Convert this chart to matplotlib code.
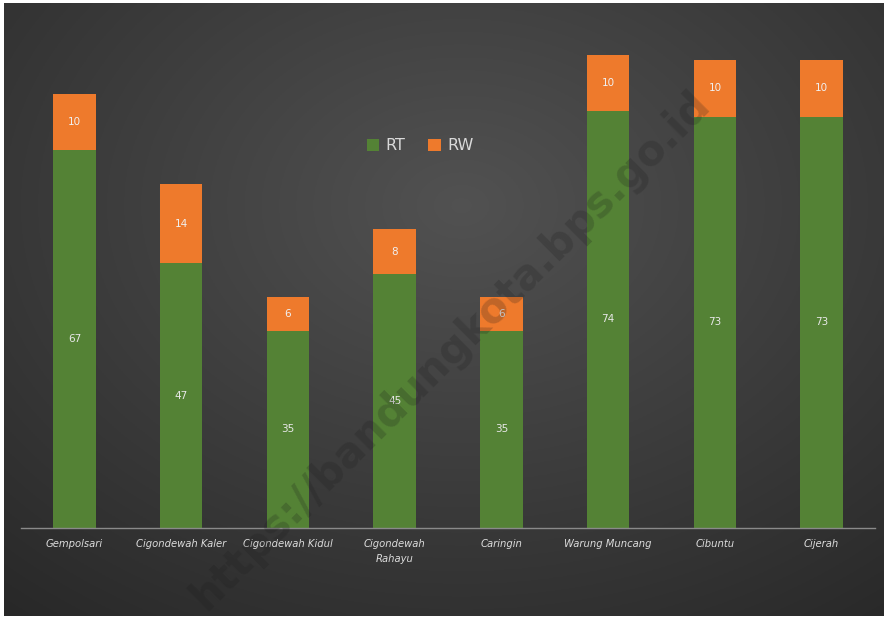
import numpy as np
import matplotlib
matplotlib.use('Agg')  # No DISPLAY
import matplotlib.pyplot as plt
from matplotlib import font_manager

kelurahan = ["Gempolsari", "Cigondewah Kaler", "Cigondewah Kidul",
             "Cigondewah\nRahayu", "Caringin", "Warung Muncang",
             "Cibuntu", "Cijerah"]
rt = [67, 47, 35, 45, 35, 74, 73, 73]
rw = [10, 14, 6, 8, 6, 10, 10, 10]

W, H = 888, 619
fig = plt.figure(figsize=(W / 100, H / 100), dpi=100)
fig.patch.set_facecolor('white')

# dark radial background panel
bg = fig.add_axes([4 / W, 3 / H, 880 / W, 613 / H])
yy, xx = np.mgrid[0:1:300j, 0:1:430j]
r = np.sqrt(((xx - 0.52) / 0.75) ** 2 + ((yy - 0.33) / 0.8) ** 2)
shade = np.clip(0.32 - 0.15 * r, 0.15, 0.32)
bg.imshow(np.dstack([shade, shade, shade]), aspect='auto',
          extent=[0, 1, 1, 0])
bg.set_axis_off()

ax = fig.add_axes([21 / W, (H - 528) / H, 854 / W, 496 / H])
ax.set_facecolor('none')
x = np.arange(len(kelurahan))
green = '#548235'
orange = '#ee7a2c'
ax.bar(x, rt, 0.40, color=green, label='RT')
ax.bar(x, rw, 0.40, bottom=rt, color=orange, label='RW')

for i in range(len(x)):
    ax.text(x[i], rt[i] / 2, str(rt[i]), ha='center', va='center',
            color='#e8e8e8', fontsize=7.5)
    ax.text(x[i], rt[i] + rw[i] / 2, str(rw[i]), ha='center', va='center',
            color='#f0f0f0', fontsize=7.5)

narrow = font_manager.FontProperties(family='DejaVu Sans', stretch='condensed',
                                     style='italic', size=8)
ax.set_xlim(-0.5, len(x) - 0.5)
ax.set_ylim(0, 88)
ax.set_yticks([])
ax.set_xticks(x)
ax.set_xticklabels(kelurahan, color='#dcdcdc', fontproperties=narrow,
                   linespacing=1.6)
ax.tick_params(axis='x', length=0, pad=8)
for s in ['top', 'left', 'right']:
    ax.spines[s].set_visible(False)
ax.spines['bottom'].set_color('#8a8a8a')
ax.spines['bottom'].set_linewidth(1.0)

ax.legend(loc='center', bbox_to_anchor=((420 - 21) / 854, (528 - 146) / 496),
          ncol=2, frameon=False, fontsize=11.5, labelcolor='#d9d9d9',
          handlelength=0.8, handleheight=0.8, handletextpad=0.4,
          columnspacing=1.4)

# watermark
fig.text(450 / W, (H - 350) / H, "https://bandungkota.bps.go.id",
         rotation=45, ha='center', va='center', fontsize=30,
         fontweight='bold', color='#1c1c1c', alpha=0.22)

fig.savefig('out.png', dpi=100)
